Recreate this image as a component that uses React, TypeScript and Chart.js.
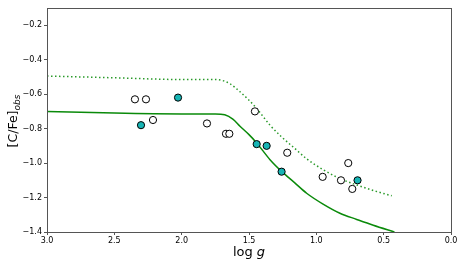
import React, { useEffect, useRef } from "react";
import { Chart, registerables } from "chart.js";

Chart.register(...registerables);

const xTicks = [3.0, 2.5, 2.0, 1.5, 1.0, 0.5, 0.0];
const yTicks = [-1.4, -1.2, -1.0, -0.8, -0.6, -0.4, -0.2];

const openLogg = [2.347, 2.265, 2.213, 1.812, 1.671, 1.646, 1.456, 1.216, 0.953, 0.817, 0.763, 0.733];
const openCFe = [-0.63, -0.63, -0.75, -0.77, -0.83, -0.83, -0.70, -0.94, -1.08, -1.10, -1.00, -1.15];

const filledLogg = [2.302, 2.027, 1.443, 1.369, 1.258, 0.694];
const filledCFe = [-0.78, -0.62, -0.89, -0.90, -1.05, -1.10];

const solidLogg = [3.0, 2.5, 2.0, 1.75, 1.68, 1.62, 1.567, 1.5, 1.443, 1.344, 1.258, 1.16, 1.072, 0.95, 0.825, 0.7, 0.577, 0.42];
const solidCFe = [-0.70, -0.71, -0.715, -0.715, -0.72, -0.745, -0.786, -0.835, -0.883, -0.98, -1.048, -1.115, -1.175, -1.238, -1.291, -1.327, -1.361, -1.40];

const dottedLogg = [3.0, 2.5, 2.0, 1.75, 1.7, 1.64, 1.567, 1.5, 1.443, 1.344, 1.258, 1.16, 1.072, 0.95, 0.825, 0.7, 0.577, 0.44];
const dottedCFe = [-0.495, -0.505, -0.515, -0.515, -0.52, -0.54, -0.586, -0.635, -0.683, -0.78, -0.848, -0.915, -0.975, -1.038, -1.09, -1.127, -1.159, -1.19];

const pts = (xs: number[], ys: number[]) => xs.map((x, i) => ({ x, y: ys[i] }));
const fmt = (v: number) => v.toFixed(1).replace("-", "\u2212");

const FONT = '"DejaVu Sans", sans-serif';

const framePlugin = {
  id: "frameAndTitles",
  afterDraw(chart: any) {
    const ctx = chart.ctx;
    const a = chart.chartArea;
    ctx.save();
    ctx.strokeStyle = "#555";
    ctx.lineWidth = 1;
    ctx.strokeRect(Math.round(a.left) + 0.5, Math.round(a.top) + 0.5, Math.round(a.right - a.left), Math.round(a.bottom - a.top));

    ctx.fillStyle = "#000";
    ctx.textBaseline = "middle";
    ctx.textAlign = "left";
    // x title
    ctx.font = `13px ${FONT}`;
    const p1 = "log ";
    const w1 = ctx.measureText(p1).width;
    ctx.font = `italic 13px ${FONT}`;
    const w2 = ctx.measureText("g").width;
    const cx = (a.left + a.right) / 2;
    const sx = cx - (w1 + w2) / 2;
    ctx.font = `13px ${FONT}`;
    ctx.fillText(p1, sx, 253);
    ctx.font = `italic 13px ${FONT}`;
    ctx.fillText("g", sx + w1, 253);

    // y title
    ctx.translate(14, 121);
    ctx.rotate(-Math.PI / 2);
    ctx.font = `12.5px ${FONT}`;
    const m = "[C/Fe]";
    const mw = ctx.measureText(m).width;
    ctx.font = `italic 9px ${FONT}`;
    const sw = ctx.measureText("obs").width;
    const total = mw + sw;
    const start = -total / 2;
    ctx.font = `12.5px ${FONT}`;
    ctx.fillText(m, start, 0);
    ctx.font = `italic 9px ${FONT}`;
    ctx.fillText("obs", start + mw, 4);
    ctx.restore();
  },
};

export default function App() {
  const ref = useRef<HTMLCanvasElement | null>(null);
  useEffect(() => {
    if (!ref.current) return;
    const chart = new Chart(ref.current, {
      type: "scatter",
      data: {
        datasets: [
          {
            label: "filled",
            data: pts(filledLogg, filledCFe),
            backgroundColor: "#17b5b5",
            borderColor: "#000",
            borderWidth: 1,
            pointRadius: 3.6,
            showLine: false,
          },
          {
            label: "open",
            data: pts(openLogg, openCFe),
            backgroundColor: "#fff",
            borderColor: "#000",
            borderWidth: 1,
            pointRadius: 3.6,
            showLine: false,
          },
          {
            label: "solid",
            data: pts(solidLogg, solidCFe),
            borderColor: "#0a8a0a",
            borderWidth: 1.5,
            pointRadius: 0,
            showLine: true,
            cubicInterpolationMode: "monotone",
            fill: false,
          },
          {
            label: "dotted",
            data: pts(dottedLogg, dottedCFe),
            borderColor: "#2a9a2a",
            borderWidth: 1.5,
            borderDash: [1.5, 2.5],
            pointRadius: 0,
            showLine: true,
            cubicInterpolationMode: "monotone",
            fill: false,
          },
        ],
      } as any,
      options: {
        responsive: false,
        animation: false,
        layout: { padding: { left: 0, top: 8, right: 12, bottom: 0 } },
        plugins: { legend: { display: false }, tooltip: { enabled: false } },
        scales: {
          x: {
            type: "linear",
            reverse: true,
            min: 0,
            max: 3,
            afterBuildTicks: (s: any) => {
              s.ticks = xTicks.map((v) => ({ value: v }));
            },
            afterFit: (s: any) => {
              s.height = 36;
            },
            grid: { drawOnChartArea: false, drawTicks: true, tickLength: 3, tickColor: "#555" },
            border: { display: true, color: "#555" },
            ticks: {
              color: "#000",
              font: { family: FONT, size: 8 },
              padding: 1,
              maxRotation: 0,
              autoSkip: false,
              callback: (v: any) => fmt(Number(v)),
            },
          },
          y: {
            type: "linear",
            min: -1.4,
            max: -0.1,
            afterBuildTicks: (s: any) => {
              s.ticks = yTicks.map((v) => ({ value: v }));
            },
            afterFit: (s: any) => {
              s.width = 47;
            },
            grid: { drawOnChartArea: false, drawTicks: true, tickLength: 3, tickColor: "#555" },
            border: { display: true, color: "#555" },
            ticks: {
              color: "#000",
              font: { family: FONT, size: 8 },
              padding: 2,
              autoSkip: false,
              callback: (v: any) => fmt(Number(v)),
            },
          },
        },
      },
      plugins: [framePlugin],
    });
    return () => chart.destroy();
  }, []);
  return (
    <div style={{ position: "absolute", left: 0, top: 0, width: 463, height: 268, background: "#fff" }}>
      <canvas ref={ref} width={463} height={268} />
    </div>
  );
}
